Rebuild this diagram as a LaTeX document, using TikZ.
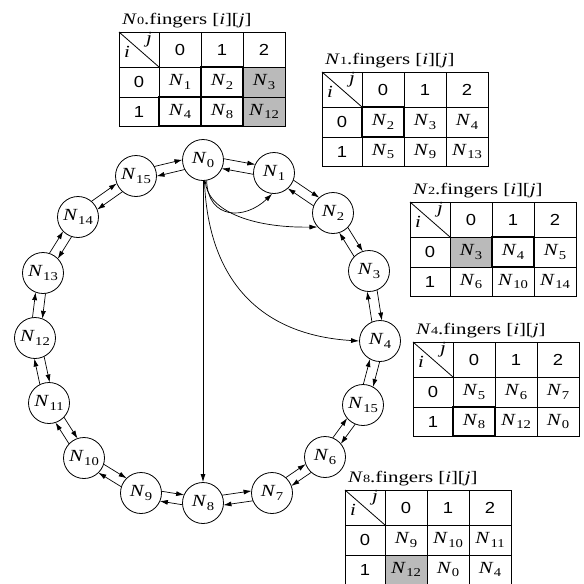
\documentclass[tikz,border=0pt]{standalone}
\usepackage{fontspec}
\setmainfont{Liberation Serif}[FakeStretch=1.22]
\newfontfamily\dsans{Liberation Sans}[FakeStretch=1.15]
\newfontfamily\ttlfont{Liberation Serif}[FakeStretch=1.3]
\usetikzlibrary{arrows.meta,calc}
\newcommand\Nl[1]{\textit{N}\kern0.02em\raisebox{-3.8pt}{\fontsize{12}{12}\selectfont #1}}
\tikzset{
 ring/.style={circle,draw,line width=0.8pt,minimum size=41pt,inner sep=0pt,font=\fontsize{17}{18}\selectfont},
 lnk/.style={-{Latex[length=8pt,width=5pt]},line width=0.7pt},
 tcell/.style={inner sep=0pt,font=\fontsize{17}{18}\selectfont},
 hdr/.style={inner sep=0pt,font=\dsans\fontsize{16}{17}\selectfont},
 ttl/.style={anchor=base west,inner sep=0pt,font=\ttlfont\fontsize{16}{17}\selectfont},
 tgrid/.style={line width=0.8pt},
 thickbox/.style={line width=2.9pt},
 cellgray/.style={fill=black!27}
}
\newcommand\pairarrows[2]{%
 \draw[lnk,shorten <=19.9pt,shorten >=19.9pt] ($(#1)!5pt!90:(#2)$) -- ($(#2)!5pt!-90:(#1)$);
 \draw[lnk,shorten <=19.9pt,shorten >=19.9pt] ($(#2)!5pt!90:(#1)$) -- ($(#1)!5pt!-90:(#2)$);}
\newcommand\ftable[7]{%
 \node[ttl] (t#1-title) at (3,8) {\textit{N}{\fontsize{11}{11}\selectfont #1}.fingers [\textit{i}][\textit{j}]};
 \draw[tgrid] (0,0) rectangle (166,-94);
 \foreach \x in {40,82,124} \draw[tgrid] (\x,0) -- (\x,-94);
 \foreach \y in {-35,-65} \draw[tgrid] (0,\y) -- (166,\y);
 \draw[tgrid] (0,0) -- (40,-35);
 \node[tcell,anchor=base] (t#1-j) at (30,-11) {\textit{j}};
 \node[tcell,anchor=base] (t#1-i) at (8,-25) {\textit{i}};
 \node[hdr] (t#1-h0) at (61,-17.5) {0};
 \node[hdr] (t#1-h1) at (103,-17.5) {1};
 \node[hdr] (t#1-h2) at (145,-17.5) {2};
 \node[hdr] (t#1-r0) at (20,-50) {0};
 \node[hdr] (t#1-r1) at (20,-79.5) {1};
 \node[tcell] (t#1-c00) at (61,-50) {\Nl{#2}};
 \node[tcell] (t#1-c01) at (103,-50) {\Nl{#3}};
 \node[tcell] (t#1-c02) at (145,-50) {\Nl{#4}};
 \node[tcell] (t#1-c10) at (61,-79.5) {\Nl{#5}};
 \node[tcell] (t#1-c11) at (103,-79.5) {\Nl{#6}};
 \node[tcell] (t#1-c12) at (145,-79.5) {\Nl{#7}};
}
\begin{document}
\begin{tikzpicture}[x=1pt,y=1pt]
\useasboundingbox (0,0) rectangle (584,-584);
% ring nodes
\node[ring] (n0) at (203,-160) {\Nl{0}};
\node[ring] (n1) at (274,-173) {\Nl{1}};
\node[ring] (n2) at (333,-213) {\Nl{2}};
\node[ring] (n3) at (369,-271) {\Nl{3}};
\node[ring] (n4) at (380,-341) {\Nl{4}};
\node[ring] (n5) at (363,-405) {\Nl{15}};
\node[ring] (n6) at (325,-457) {\Nl{6}};
\node[ring] (n7) at (272,-493) {\Nl{7}};
\node[ring] (n8) at (203,-503) {\Nl{8}};
\node[ring] (n9) at (141,-493) {\Nl{9}};
\node[ring] (n10) at (84,-458) {\Nl{10}};
\node[ring] (n11) at (49,-403) {\Nl{11}};
\node[ring] (n12) at (35,-338) {\Nl{12}};
\node[ring] (n13) at (43,-273) {\Nl{13}};
\node[ring] (n14) at (78,-217) {\Nl{14}};
\node[ring] (n15) at (136,-176) {\Nl{15}};
% neighbour arrows
\pairarrows{n0}{n1}
\pairarrows{n1}{n2}
\pairarrows{n2}{n3}
\pairarrows{n3}{n4}
\pairarrows{n4}{n5}
\pairarrows{n5}{n6}
\pairarrows{n6}{n7}
\pairarrows{n7}{n8}
\pairarrows{n8}{n9}
\pairarrows{n9}{n10}
\pairarrows{n10}{n11}
\pairarrows{n11}{n12}
\pairarrows{n12}{n13}
\pairarrows{n13}{n14}
\pairarrows{n14}{n15}
\pairarrows{n15}{n0}
% finger links of N0
\draw[lnk] (n0.-80) .. controls (208,-220) and (245,-220) .. (n1.-95);
\draw[lnk] (n0.-84) .. controls (207,-210) and (250,-228) .. (n2.222);
\draw[lnk] (n0.-86) .. controls (208,-280) and (260,-335) .. (n4.180);
\draw[lnk] (n0.south) -- (n8.north);
% tables
\begin{scope}[shift={(119,-32)}]
 \fill[cellgray] (124.4,-35.4) rectangle (165.6,-93.6);
 \ftable{0}{1}{2}{3}{4}{8}{12}
 \draw[thickbox] (82,-35) rectangle (124,-65);
 \draw[thickbox] (40,-65) rectangle (124,-94);
 \draw[thickbox] (82,-65) -- (82,-94);
\end{scope}
\begin{scope}[shift={(322,-72)}]
 \ftable{1}{2}{3}{4}{5}{9}{13}
 \draw[thickbox] (40,-35) rectangle (82,-65);
\end{scope}
\begin{scope}[shift={(410,-202)}]
 \fill[cellgray] (40.4,-35.4) rectangle (81.6,-64.6);
 \ftable{2}{3}{4}{5}{6}{10}{14}
 \draw[thickbox] (82,-35) rectangle (124,-65);
\end{scope}
\begin{scope}[shift={(413,-342)}]
 \ftable{4}{5}{6}{7}{8}{12}{0}
 \draw[thickbox] (40,-65) rectangle (82,-94);
\end{scope}
\begin{scope}[shift={(345,-490)}]
 \fill[cellgray] (40.4,-65.4) rectangle (81.6,-93.6);
 \ftable{8}{9}{10}{11}{12}{0}{4}
\end{scope}
\end{tikzpicture}
\end{document}
